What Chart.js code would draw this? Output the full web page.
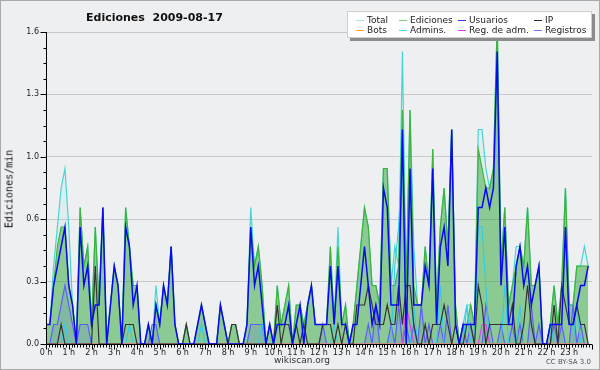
<!DOCTYPE html>
<html lang="es">
<head>
<meta charset="UTF-8">
<title>Ediciones 2009-08-17</title>
<script src="https://cdn.jsdelivr.net/npm/chart.js@4.4.1/dist/chart.umd.min.js"></script>
<style>
  html, body { margin: 0; padding: 0; background: #eeeff1; }
  #wrap { position: relative; width: 600px; height: 370px; overflow: hidden; font-family: "DejaVu Sans", sans-serif; color: #222; }
  #chart { position: absolute; left: 0; top: 0; }
  #frame { position: absolute; left: 0; top: 0; width: 600px; height: 370px; box-sizing: border-box; border: 1px solid #a9a9a9; pointer-events: none; }
  #title { position: absolute; left: 86px; top: 11px; font-weight: bold; font-size: 11px; white-space: pre; color: #111; }
  #ytitle { position: absolute; left: 9px; top: 189px; transform: translate(-50%, -50%) rotate(-90deg); font-family: "DejaVu Sans Mono", monospace; font-size: 10px; white-space: nowrap; color: #111; }
  #legend { position: absolute; left: 347px; top: 11px; width: 245px; height: 27px; background: #fff; border: 1px solid #d0d0d0; box-sizing: border-box; box-shadow: 3px 3px 0 #8c8c8c; }
  .item { position: absolute; font-size: 9px; line-height: 10px; white-space: nowrap; color: #222; }
  .item i { position: absolute; left: 0; top: 5px; width: 8px; height: 1px; }
  .item span { position: absolute; left: 11px; top: 0; }
  #site { position: absolute; left: 302px; top: 355px; transform: translateX(-50%); font-size: 9px; color: #333; }
  #cc { position: absolute; right: 9px; top: 358px; font-size: 7px; color: #555; }
</style>
</head>
<body>
<div id="wrap">
  <canvas id="chart" width="600" height="370"></canvas>
  <div id="title">Ediciones  2009-08-17</div>
  <div id="ytitle">Ediciones/min</div>
  <div id="legend"></div>
  <div id="site">wikiscan.org</div>
  <div id="cc">CC BY-SA 3.0</div>
  <div id="frame"></div>
</div>
<script>
// tick labels
const hourLabels = ['0 h','1 h','2 h','3 h','4 h','5 h','6 h','7 h','8 h','9 h','10 h','11 h',
  '12 h','13 h','14 h','15 h','16 h','17 h','18 h','19 h','20 h','21 h','22 h','23 h'];
const yTickValues = [0, 0.32, 0.64, 0.96, 1.28, 1.6];
const yTickLabels = ['0.0', '0.3', '0.6', '1.0', '1.3', '1.6'];

// edits per minute, one value per 10 minutes (144 per series)
const total = [
  0.1,0.1,0.4,0.6,0.8,0.9, 0.6,0.2,0,0.7,0.4,0.5,
  0.1,0.6,0.2,0.7,0,0.2, 0.4,0.3,0,0.7,0.5,0.3,
  0.3,0,0,0.1,0,0.3, 0.1,0.3,0.2,0.5,0.1,0,
  0,0.1,0,0,0.1,0.2, 0.1,0,0,0,0.2,0.1,
  0,0.1,0.1,0,0,0.1, 0.7,0.4,0.5,0.3,0,0.1,
  0,0.3,0.1,0.2,0.3,0, 0.2,0.2,0.1,0.2,0.3,0.1,
  0.1,0.1,0.1,0.5,0.1,0.6, 0.1,0.2,0,0.1,0.3,0.5,
  0.7,0.6,0.3,0.3,0.2,0.9, 0.9,0.3,0.5,0.4,1.5,0.3,
  1.2,0.5,0.2,0.2,0.5,0.3, 1.0,0.2,0.6,0.8,0.5,1.1,
  0.2,0,0.1,0.2,0.2,0.1, 1.1,1.1,0.9,0.8,0.9,1.65,
  0.4,0.7,0.2,0.3,0.5,0.5, 0.4,0.7,0.3,0.3,0.4,0,
  0,0.1,0.3,0.1,0.3,0.8, 0.2,0.2,0.4,0.4,0.5,0.4
];
const ediciones = [
  0.1,0.1,0.3,0.5,0.6,0.6, 0.3,0.2,0,0.7,0.4,0.5,
  0.1,0.6,0.2,0.7,0,0.2, 0.4,0.3,0,0.7,0.5,0.3,
  0.3,0,0,0.1,0,0.2, 0.1,0.3,0.2,0.5,0.1,0,
  0,0.1,0,0,0.1,0.2, 0.1,0,0,0,0.2,0.1,
  0,0.1,0.1,0,0,0.1, 0.6,0.4,0.5,0.3,0,0.1,
  0,0.3,0.1,0.2,0.3,0, 0.2,0.2,0.1,0.2,0.3,0.1,
  0.1,0.1,0.1,0.5,0.1,0.5, 0.1,0.2,0,0.1,0.3,0.5,
  0.7,0.6,0.3,0.3,0.2,0.9, 0.9,0.3,0.3,0.4,1.2,0.3,
  1.2,0.3,0.2,0.2,0.5,0.3, 1.0,0.2,0.6,0.8,0.5,1.1,
  0.2,0,0.1,0.1,0.2,0.1, 1.0,0.9,0.8,0.8,0.9,1.65,
  0.4,0.7,0.2,0.3,0.4,0.5, 0.4,0.7,0.3,0.3,0.4,0,
  0,0.1,0.3,0.1,0.3,0.8, 0.2,0.2,0.4,0.4,0.4,0.4
];
const usuarios = [
  0.1,0.1,0.3,0.4,0.5,0.6, 0.3,0.2,0,0.6,0.3,0.4,
  0.1,0.2,0.2,0.7,0,0.2, 0.4,0.3,0,0.6,0.5,0.2,
  0.3,0,0,0.1,0,0.2, 0.1,0.3,0.2,0.5,0.1,0,
  0,0,0,0,0.1,0.2, 0.1,0,0,0,0.2,0.1,
  0,0,0,0,0,0.1, 0.6,0.3,0.4,0.2,0,0.1,
  0,0.1,0.1,0.1,0.2,0, 0.1,0.2,0,0.2,0.3,0.1,
  0.1,0.1,0.1,0.4,0.1,0.4, 0.1,0.1,0,0.1,0.1,0.3,
  0.5,0.3,0.1,0.2,0.1,0.8, 0.7,0.2,0.2,0.2,1.1,0,
  0.9,0.2,0.2,0.2,0.4,0.3, 0.9,0.1,0.5,0.6,0.4,1.1,
  0.1,0,0.1,0.1,0.1,0.1, 0.7,0.7,0.8,0.7,0.8,1.5,
  0.3,0.6,0.1,0.1,0.4,0.5, 0.3,0.4,0.2,0.3,0.4,0,
  0,0.1,0.1,0.1,0.1,0.6, 0.1,0.1,0.2,0.3,0.3,0.4
];
const ip = [
  0,0,0,0,0.1,0, 0,0,0,0,0,0,
  0,0.4,0,0,0,0, 0,0,0,0.1,0.1,0.1,
  0,0,0,0,0,0, 0,0,0,0,0,0,
  0,0.1,0,0,0,0, 0,0,0,0,0,0,
  0,0.1,0.1,0,0,0, 0,0,0,0,0,0,
  0,0.2,0,0.1,0.1,0, 0.1,0,0.1,0,0,0,
  0,0.1,0.1,0.1,0,0.1, 0,0.1,0,0,0.2,0.2,
  0.2,0.3,0.2,0.1,0.1,0.1, 0.2,0.1,0.1,0.3,0.1,0.3,
  0.3,0.1,0,0,0.1,0, 0.1,0.1,0.1,0.2,0.1,0,
  0.1,0,0,0.1,0.1,0, 0.3,0.2,0,0.1,0.1,0.1,
  0.1,0.1,0.1,0.2,0,0, 0.1,0.3,0.1,0,0,0,
  0,0,0.2,0,0.3,0.2, 0.1,0.1,0.2,0.1,0.1,0
];
const bots = new Array(144).fill(0);
const admins = [
  0,0,0,0,0,0.1, 0,0,0,0,0,0,
  0,0,0,0,0,0, 0,0,0,0,0.1,0,
  0,0,0,0,0,0, 0,0,0,0,0,0,
  0,0,0,0,0,0.1, 0,0,0,0,0,0,
  0,0,0,0,0,0, 0,0,0,0.1,0,0,
  0,0,0,0,0,0, 0,0,0,0,0,0,
  0,0,0,0,0.1,0, 0,0,0,0,0,0,
  0,0,0,0,0,0, 0,0,0.4,0.6,1.0,0,
  0,0.2,0,0,0,0, 0,0,0.3,0,0,0,
  0,0,0,0.2,0,0, 0.6,0.6,0.3,0,0,0,
  0,0.3,0,0,0,0.2, 0,0,0,0,0,0,
  0,0.1,0,0,0,0, 0,0,0.2,0,0,0
];
const regAdm = [
  0,0,0,0,0,0, 0,0,0,0,0,0,
  0,0,0,0,0,0, 0,0,0,0,0,0,
  0,0,0,0,0,0, 0,0,0,0,0,0,
  0,0,0,0,0,0, 0,0,0,0,0,0,
  0,0,0,0,0,0, 0,0,0,0,0,0,
  0,0,0,0,0,0, 0,0,0,0,0,0,
  0,0,0,0,0,0, 0,0,0,0,0,0,
  0,0,0,0,0,0, 0,0,0,0,0,0.2,
  0.1,0,0,0,0,0, 0,0,0,0,0,0,
  0,0,0,0,0,0, 0,0.1,0.1,0,0,0,
  0,0,0,0,0,0, 0,0,0,0,0,0,
  0,0,0,0,0,0, 0,0,0,0,0,0
];
const registros = [
  0,0,0.1,0.1,0.2,0.3, 0.2,0.1,0,0.1,0.1,0.1,
  0,0,0,0,0,0, 0,0,0,0,0,0,
  0,0,0,0,0.1,0.1, 0,0,0,0,0,0,
  0,0,0,0,0,0, 0,0,0,0,0,0,
  0,0,0,0,0,0, 0.1,0.1,0.1,0.1,0,0,
  0,0,0,0,0,0, 0,0,0,0,0,0,
  0,0.1,0,0,0,0, 0,0,0,0,0,0,
  0,0.1,0,0.2,0,0, 0,0.1,0,0.2,0,0.1,
  0,0.1,0,0.2,0,0.1, 0,0,0.1,0,0.2,0,
  0,0,0.1,0,0.1,0, 0,0,0.2,0.1,0,0,
  0.1,0,0,0.1,0,0.1, 0,0,0.2,0,0.1,0,
  0,0,0.1,0,0.1,0, 0,0.2,0,0.1,0,0
];

const seriesNames = ['Total', 'Ediciones', 'Usuarios', 'IP', 'Bots', 'Admins.', 'Reg. de adm.', 'Registros'];
const seriesValues = [total, ediciones, usuarios, ip, bots, admins, regAdm, registros];
const seriesColors = ['#46d6d2', '#3cb43c', '#0a0af0', '#333333', '#ffa030', '#30cce6', '#e040e8', '#5c5cff'];
const legendColors = ['#a8e6e6', '#7ccc7c', '#3434e8', '#333333', '#ffa028', '#40d4e4', '#e040f0', '#7474ff'];
const seriesFills = ['rgba(70,214,210,0.08)', 'rgba(40,160,40,0.45)', false, false, false, false, false, 'rgba(60,60,255,0.13)'];
const seriesOrder = [8, 7, 1, 2, 3, 5, 4, 6];
const seriesWidth = [1.2, 1.2, 1.5, 1.2, 1.2, 1.1, 1.2, 1.2];

// legend (HTML, two rows of four)
const legend = document.getElementById('legend');
const colLeft = [8, 51, 110, 186];
seriesNames.forEach((name, i) => {
  const el = document.createElement('div');
  el.className = 'item';
  el.style.left = colLeft[i % 4] + 'px';
  el.style.top = (i < 4 ? 3 : 13) + 'px';
  el.innerHTML = '<i style="background:' + legendColors[i] + '"></i><span>' + name + '</span>';
  legend.appendChild(el);
});

const slotHours = total.map((_, i) => i / 6);

const datasets = seriesNames.map((name, i) => ({
  label: name,
  data: seriesValues[i].map((v, k) => ({ x: slotHours[k], y: v })),
  borderColor: seriesColors[i],
  backgroundColor: seriesFills[i] || 'transparent',
  fill: seriesFills[i] ? 'origin' : false,
  borderWidth: seriesWidth[i],
  pointRadius: 0,
  tension: 0,
  order: seriesOrder[i]
}));

const axisTicks = {
  id: 'axisTicks',
  afterDatasetsDraw(chart) {
    const { ctx, chartArea: a, scales: { x, y } } = chart;
    const ax = Math.round(a.left) + 0.5;
    const ay = Math.round(a.bottom) + 0.5;
    ctx.save();
    ctx.strokeStyle = '#000';
    ctx.lineWidth = 1;
    ctx.beginPath();
    ctx.moveTo(ax, Math.round(a.top)); ctx.lineTo(ax, ay);
    ctx.lineTo(Math.round(a.right), ay);
    for (let k = 0; k <= 20; k++) {
      const py = Math.round(y.getPixelForValue(k * 0.08)) + 0.5;
      ctx.moveTo(ax - (k % 4 === 0 ? 6 : 3), py); ctx.lineTo(ax, py);
    }
    for (let k = 0; k <= 24 * 8; k++) {
      const px = Math.round(x.getPixelForValue(k / 8)) + 0.5;
      ctx.moveTo(px, ay); ctx.lineTo(px, ay + (k % 8 === 0 ? 5 : 3));
    }
    ctx.stroke();
    ctx.restore();
  }
};

new Chart(document.getElementById('chart').getContext('2d'), {
  type: 'line',
  data: { datasets: datasets },
  options: {
    responsive: false,
    devicePixelRatio: 1,
    animation: false,
    layout: { padding: { left: 0, top: 32, right: 8, bottom: 0 } },
    plugins: { legend: { display: false }, tooltip: { enabled: false } },
    scales: {
      x: {
        type: 'linear',
        min: 0,
        max: 24,
        afterFit: s => { s.height = 26; },
        afterBuildTicks: s => { s.ticks = hourLabels.map((_, i) => ({ value: i })); },
        grid: { display: false, drawTicks: false },
        border: { display: false },
        ticks: {
          autoSkip: false,
          maxRotation: 0,
          padding: 4,
          color: '#222',
          font: { family: 'DejaVu Sans', size: 8 },
          callback: (v, i) => hourLabels[i]
        }
      },
      y: {
        min: 0,
        max: 1.6,
        afterFit: s => { s.width = 46; },
        afterBuildTicks: s => { s.ticks = yTickValues.map(v => ({ value: v })); },
        grid: {
          drawTicks: false,
          color: c => (c.tick && c.tick.value === 0) ? 'rgba(0,0,0,0)' : '#c9c9c9',
          lineWidth: 1
        },
        border: { display: false },
        ticks: {
          autoSkip: false,
          padding: 7,
          color: '#222',
          font: { family: 'DejaVu Sans', size: 8 },
          callback: (v, i) => yTickLabels[i]
        }
      }
    }
  },
  plugins: [axisTicks]
});
</script>
</body>
</html>
